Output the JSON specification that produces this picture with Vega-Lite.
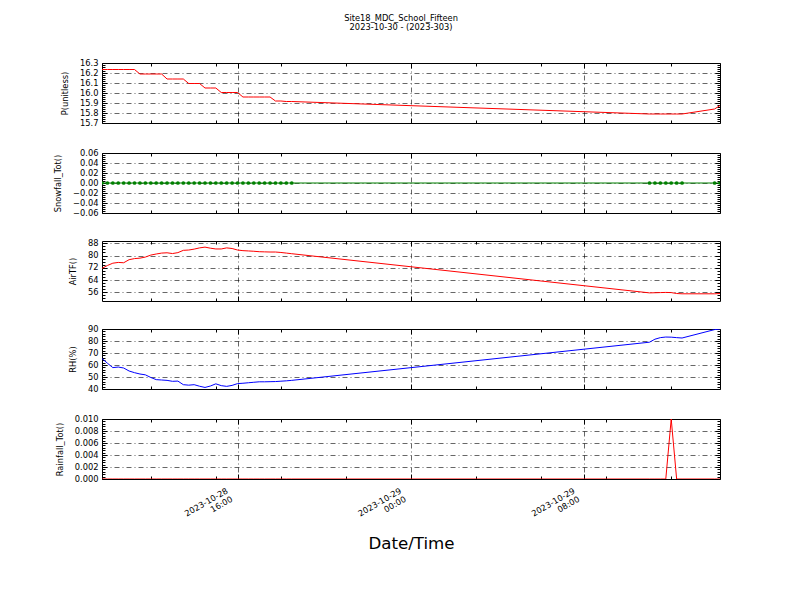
{
  "$schema": "https://vega.github.io/schema/vega-lite/v6.json",
  "background": "white",
  "padding": {"left": 53, "top": 13, "right": 5, "bottom": 5},
  "title": {"text": ["Site18_MDC_School_Fifteen", "2023-10-30 - (2023-303)"], "fontSize": 8.3, "font": "DejaVu Sans", "fontWeight": "normal", "lineHeight": 9.5, "anchor": "middle", "offset": 26, "dx": 14, "color": "black"},
  "data": {"values": [
    {"t": "2023-10-28T09:45:00", "P": 16.235, "S": 0, "T": 71.6, "RH": 65.4, "R": 0},
    {"t": "2023-10-28T10:00:00", "P": 16.235, "S": 0, "T": 73.5, "RH": 61.5, "R": 0},
    {"t": "2023-10-28T10:15:00", "P": 16.235, "S": 0, "T": 75.0, "RH": 57.8, "R": 0},
    {"t": "2023-10-28T10:30:00", "P": 16.235, "S": 0, "T": 75.5, "RH": 58.3, "R": 0},
    {"t": "2023-10-28T10:45:00", "P": 16.235, "S": 0, "T": 75.3, "RH": 57.5, "R": 0},
    {"t": "2023-10-28T11:00:00", "P": 16.235, "S": 0, "T": 77.3, "RH": 55.0, "R": 0},
    {"t": "2023-10-28T11:15:00", "P": 16.235, "S": 0, "T": 78.0, "RH": 53.6, "R": 0},
    {"t": "2023-10-28T11:30:00", "P": 16.19, "S": 0, "T": 78.3, "RH": 52.5, "R": 0},
    {"t": "2023-10-28T11:45:00", "P": 16.19, "S": 0, "T": 79.0, "RH": 51.8, "R": 0},
    {"t": "2023-10-28T12:00:00", "P": 16.19, "S": 0, "T": 80.3, "RH": 49.6, "R": 0},
    {"t": "2023-10-28T12:15:00", "P": 16.19, "S": 0, "T": 81.0, "RH": 47.8, "R": 0},
    {"t": "2023-10-28T12:30:00", "P": 16.19, "S": 0, "T": 81.6, "RH": 47.5, "R": 0},
    {"t": "2023-10-28T12:45:00", "P": 16.14, "S": 0, "T": 81.8, "RH": 47.2, "R": 0},
    {"t": "2023-10-28T13:00:00", "P": 16.14, "S": 0, "T": 81.3, "RH": 46.4, "R": 0},
    {"t": "2023-10-28T13:15:00", "P": 16.14, "S": 0, "T": 81.9, "RH": 46.6, "R": 0},
    {"t": "2023-10-28T13:30:00", "P": 16.14, "S": 0, "T": 83.4, "RH": 43.6, "R": 0},
    {"t": "2023-10-28T13:45:00", "P": 16.095, "S": 0, "T": 83.6, "RH": 43.2, "R": 0},
    {"t": "2023-10-28T14:00:00", "P": 16.095, "S": 0, "T": 84.2, "RH": 43.6, "R": 0},
    {"t": "2023-10-28T14:15:00", "P": 16.095, "S": 0, "T": 85.0, "RH": 42.3, "R": 0},
    {"t": "2023-10-28T14:30:00", "P": 16.05, "S": 0, "T": 85.5, "RH": 41.3, "R": 0},
    {"t": "2023-10-28T14:45:00", "P": 16.05, "S": 0, "T": 84.8, "RH": 42.5, "R": 0},
    {"t": "2023-10-28T15:00:00", "P": 16.05, "S": 0, "T": 84.3, "RH": 44.3, "R": 0},
    {"t": "2023-10-28T15:15:00", "P": 16.005, "S": 0, "T": 84.3, "RH": 42.8, "R": 0},
    {"t": "2023-10-28T15:30:00", "P": 16.005, "S": 0, "T": 85.0, "RH": 42.2, "R": 0},
    {"t": "2023-10-28T15:45:00", "P": 16.005, "S": 0, "T": 84.6, "RH": 43.0, "R": 0},
    {"t": "2023-10-28T16:00:00", "P": 16.005, "S": 0, "T": 83.6, "RH": 44.5, "R": 0},
    {"t": "2023-10-28T16:15:00", "P": 15.96, "S": 0, "T": 83.2, "RH": 44.8, "R": 0},
    {"t": "2023-10-28T16:30:00", "P": 15.96, "S": 0, "T": 83.0, "RH": 45.2, "R": 0},
    {"t": "2023-10-28T16:45:00", "P": 15.96, "S": 0, "T": 82.8, "RH": 45.6, "R": 0},
    {"t": "2023-10-28T17:00:00", "P": 15.96, "S": 0, "T": 82.5, "RH": 46.0, "R": 0},
    {"t": "2023-10-28T17:15:00", "P": 15.96, "S": 0, "T": 82.4, "RH": 46.0, "R": 0},
    {"t": "2023-10-28T17:30:00", "P": 15.96, "S": 0, "T": 82.3, "RH": 46.1, "R": 0},
    {"t": "2023-10-28T17:45:00", "P": 15.92, "S": 0, "T": 82.3, "RH": 46.2, "R": 0},
    {"t": "2023-10-28T18:00:00", "P": 15.92, "S": 0, "T": 82.0, "RH": 46.5, "R": 0},
    {"t": "2023-10-28T18:15:00", "P": 15.915, "S": 0, "T": 81.6, "RH": 46.8, "R": 0},
    {"t": "2023-10-28T18:30:00", "P": 15.915, "S": 0, "T": 81.2, "RH": 47.2, "R": 0},
    {"t": "2023-10-29T11:00:00", "P": 15.79, "S": 0, "T": 55.6, "RH": 79.0, "R": 0},
    {"t": "2023-10-29T11:15:00", "P": 15.79, "S": 0, "T": 55.7, "RH": 81.5, "R": 0},
    {"t": "2023-10-29T11:30:00", "P": 15.79, "S": 0, "T": 55.8, "RH": 82.8, "R": 0},
    {"t": "2023-10-29T11:45:00", "P": 15.79, "S": 0, "T": 55.9, "RH": 83.3, "R": 0},
    {"t": "2023-10-29T12:00:00", "P": 15.79, "S": 0, "T": 55.8, "RH": 83.2, "R": 0.01},
    {"t": "2023-10-29T12:15:00", "P": 15.79, "S": 0, "T": 55.2, "RH": 82.8, "R": 0},
    {"t": "2023-10-29T12:30:00", "P": 15.79, "S": 0, "T": 55.0, "RH": 82.5, "R": 0},
    {"t": "2023-10-29T14:00:00", "P": 15.84, "S": 0, "T": 55.0, "RH": 89.5, "R": 0},
    {"t": "2023-10-29T14:15:00", "P": 15.875, "S": 0, "T": 55.2, "RH": 90.0, "R": 0}
  ]},
  "vconcat": [
    {
      "width": 618, "height": 60,
      "layer": [
        {"mark": {"type": "line", "color": "#ff0000", "strokeWidth": 1, "clip": true},
         "encoding": {
           "x": {"field": "t", "type": "temporal", "scale": {"domain": [{"year": 2023, "month": 10, "date": 28, "hours": 9, "minutes": 45}, {"year": 2023, "month": 10, "date": 29, "hours": 14, "minutes": 15}], "nice": false},
             "axis": {"orient": "bottom", "values": [{"year": 2023, "month": 10, "date": 28, "hours": 12}, {"year": 2023, "month": 10, "date": 28, "hours": 15}, {"year": 2023, "month": 10, "date": 28, "hours": 16}, {"year": 2023, "month": 10, "date": 28, "hours": 18}, {"year": 2023, "month": 10, "date": 28, "hours": 21}, {"year": 2023, "month": 10, "date": 29, "hours": 0}, {"year": 2023, "month": 10, "date": 29, "hours": 3}, {"year": 2023, "month": 10, "date": 29, "hours": 6}, {"year": 2023, "month": 10, "date": 29, "hours": 8}, {"year": 2023, "month": 10, "date": 29, "hours": 9}, {"year": 2023, "month": 10, "date": 29, "hours": 12}],
               "grid": true, "gridOpacity": {"condition": {"test": "hours(datum.value)%8==0", "value": 1}, "value": 0},
               "tickSize": {"condition": {"test": "hours(datum.value)%8==0", "value": -5}, "value": -3},
               "labels": false, "title": null, "minExtent": 0}},
           "y": {"field": "P", "type": "quantitative", "scale": {"domain": [15.7, 16.3], "nice": false, "zero": false},
             "axis": {"orient": "left", "values": [15.7,15.72,15.74,15.76,15.78,15.8,15.82,15.84,15.86,15.88,15.9,15.92,15.94,15.96,15.98,16,16.02,16.04,16.06,16.08,16.1,16.12,16.14,16.16,16.18,16.2,16.22,16.24,16.26,16.28,16.3],
               "grid": true, "gridOpacity": {"condition": {"test": "abs(datum.value*10-round(datum.value*10))<1e-6", "value": 1}, "value": 0},
               "tickSize": {"condition": {"test": "abs(datum.value*10-round(datum.value*10))<1e-6", "value": -5}, "value": -3},
               "labelExpr": "abs(datum.value*10-round(datum.value*10))<1e-6 ? format(datum.value,'.1f') : ''",
               "title": "P(unitless)"}}
         }},
        {"mark": {"type": "line", "opacity": 0},
         "encoding": {
           "x": {"field": "t", "type": "temporal", "axis": {"orient": "top", "values": [{"year": 2023, "month": 10, "date": 28, "hours": 12}, {"year": 2023, "month": 10, "date": 28, "hours": 15}, {"year": 2023, "month": 10, "date": 28, "hours": 16}, {"year": 2023, "month": 10, "date": 28, "hours": 18}, {"year": 2023, "month": 10, "date": 28, "hours": 21}, {"year": 2023, "month": 10, "date": 29, "hours": 0}, {"year": 2023, "month": 10, "date": 29, "hours": 3}, {"year": 2023, "month": 10, "date": 29, "hours": 6}, {"year": 2023, "month": 10, "date": 29, "hours": 8}, {"year": 2023, "month": 10, "date": 29, "hours": 9}, {"year": 2023, "month": 10, "date": 29, "hours": 12}], "grid": false, "labels": false, "title": null, "minExtent": 0,
             "tickSize": {"condition": {"test": "hours(datum.value)%8==0", "value": -5}, "value": -3}}},
           "y": {"field": "P", "type": "quantitative", "axis": {"orient": "right", "values": [15.7,15.72,15.74,15.76,15.78,15.8,15.82,15.84,15.86,15.88,15.9,15.92,15.94,15.96,15.98,16,16.02,16.04,16.06,16.08,16.1,16.12,16.14,16.16,16.18,16.2,16.22,16.24,16.26,16.28,16.3], "grid": false, "labels": false, "title": null, "minExtent": 0,
             "tickSize": {"condition": {"test": "abs(datum.value*10-round(datum.value*10))<1e-6", "value": -5}, "value": -3}}}
         }}
      ],
      "resolve": {"axis": {"x": "independent", "y": "independent"}}
    },
    {
      "width": 618, "height": 60,
      "layer": [
        {"mark": {"type": "line", "color": "#008000", "strokeWidth": 1, "clip": true},
         "encoding": {
           "x": {"field": "t", "type": "temporal", "scale": {"domain": [{"year": 2023, "month": 10, "date": 28, "hours": 9, "minutes": 45}, {"year": 2023, "month": 10, "date": 29, "hours": 14, "minutes": 15}], "nice": false},
             "axis": {"orient": "bottom", "values": [{"year": 2023, "month": 10, "date": 28, "hours": 12}, {"year": 2023, "month": 10, "date": 28, "hours": 15}, {"year": 2023, "month": 10, "date": 28, "hours": 16}, {"year": 2023, "month": 10, "date": 28, "hours": 18}, {"year": 2023, "month": 10, "date": 28, "hours": 21}, {"year": 2023, "month": 10, "date": 29, "hours": 0}, {"year": 2023, "month": 10, "date": 29, "hours": 3}, {"year": 2023, "month": 10, "date": 29, "hours": 6}, {"year": 2023, "month": 10, "date": 29, "hours": 8}, {"year": 2023, "month": 10, "date": 29, "hours": 9}, {"year": 2023, "month": 10, "date": 29, "hours": 12}],
               "grid": true, "gridOpacity": {"condition": {"test": "hours(datum.value)%8==0", "value": 1}, "value": 0},
               "tickSize": {"condition": {"test": "hours(datum.value)%8==0", "value": -5}, "value": -3},
               "labels": false, "title": null, "minExtent": 0}},
           "y": {"field": "S", "type": "quantitative", "scale": {"domain": [-0.06, 0.06], "nice": false, "zero": false},
             "axis": {"orient": "left", "values": [-0.06,-0.056,-0.052,-0.048,-0.044,-0.04,-0.036,-0.032,-0.028,-0.024,-0.02,-0.016,-0.012,-0.008,-0.004,0,0.004,0.008,0.012,0.016,0.02,0.024,0.028,0.032,0.036,0.04,0.044,0.048,0.052,0.056,0.06],
               "grid": true, "gridOpacity": {"condition": {"test": "abs(datum.value*50-round(datum.value*50))<1e-6", "value": 1}, "value": 0},
               "tickSize": {"condition": {"test": "abs(datum.value*50-round(datum.value*50))<1e-6", "value": -5}, "value": -3},
               "labelExpr": "abs(datum.value*50-round(datum.value*50))<1e-6 ? format(datum.value,'.2f') : ''",
               "title": "Snowfall_Tot()"}}
         }},
        {"mark": {"type": "point", "filled": true, "color": "#008000", "opacity": 1, "size": 14, "clip": true},
         "encoding": {
           "x": {"field": "t", "type": "temporal", "axis": {"orient": "top", "values": [{"year": 2023, "month": 10, "date": 28, "hours": 12}, {"year": 2023, "month": 10, "date": 28, "hours": 15}, {"year": 2023, "month": 10, "date": 28, "hours": 16}, {"year": 2023, "month": 10, "date": 28, "hours": 18}, {"year": 2023, "month": 10, "date": 28, "hours": 21}, {"year": 2023, "month": 10, "date": 29, "hours": 0}, {"year": 2023, "month": 10, "date": 29, "hours": 3}, {"year": 2023, "month": 10, "date": 29, "hours": 6}, {"year": 2023, "month": 10, "date": 29, "hours": 8}, {"year": 2023, "month": 10, "date": 29, "hours": 9}, {"year": 2023, "month": 10, "date": 29, "hours": 12}], "grid": false, "labels": false, "title": null, "minExtent": 0,
             "tickSize": {"condition": {"test": "hours(datum.value)%8==0", "value": -5}, "value": -3}}},
           "y": {"field": "S", "type": "quantitative", "axis": {"orient": "right", "values": [-0.06,-0.056,-0.052,-0.048,-0.044,-0.04,-0.036,-0.032,-0.028,-0.024,-0.02,-0.016,-0.012,-0.008,-0.004,0,0.004,0.008,0.012,0.016,0.02,0.024,0.028,0.032,0.036,0.04,0.044,0.048,0.052,0.056,0.06], "grid": false, "labels": false, "title": null, "minExtent": 0,
             "tickSize": {"condition": {"test": "abs(datum.value*50-round(datum.value*50))<1e-6", "value": -5}, "value": -3}}}
         }}
      ],
      "resolve": {"axis": {"x": "independent", "y": "independent"}}
    },
    {
      "width": 618, "height": 60,
      "layer": [
        {"mark": {"type": "line", "color": "#ff0000", "strokeWidth": 1, "clip": true},
         "encoding": {
           "x": {"field": "t", "type": "temporal", "scale": {"domain": [{"year": 2023, "month": 10, "date": 28, "hours": 9, "minutes": 45}, {"year": 2023, "month": 10, "date": 29, "hours": 14, "minutes": 15}], "nice": false},
             "axis": {"orient": "bottom", "values": [{"year": 2023, "month": 10, "date": 28, "hours": 12}, {"year": 2023, "month": 10, "date": 28, "hours": 15}, {"year": 2023, "month": 10, "date": 28, "hours": 16}, {"year": 2023, "month": 10, "date": 28, "hours": 18}, {"year": 2023, "month": 10, "date": 28, "hours": 21}, {"year": 2023, "month": 10, "date": 29, "hours": 0}, {"year": 2023, "month": 10, "date": 29, "hours": 3}, {"year": 2023, "month": 10, "date": 29, "hours": 6}, {"year": 2023, "month": 10, "date": 29, "hours": 8}, {"year": 2023, "month": 10, "date": 29, "hours": 9}, {"year": 2023, "month": 10, "date": 29, "hours": 12}],
               "grid": true, "gridOpacity": {"condition": {"test": "hours(datum.value)%8==0", "value": 1}, "value": 0},
               "tickSize": {"condition": {"test": "hours(datum.value)%8==0", "value": -5}, "value": -3},
               "labels": false, "title": null, "minExtent": 0}},
           "y": {"field": "T", "type": "quantitative", "scale": {"domain": [50.3, 89.5], "nice": false, "zero": false},
             "axis": {"orient": "left", "values": [52,54,56,58,60,62,64,66,68,70,72,74,76,78,80,82,84,86,88],
               "grid": true, "gridOpacity": {"condition": {"test": "datum.value%8==0", "value": 1}, "value": 0},
               "tickSize": {"condition": {"test": "datum.value%8==0", "value": -5}, "value": -3},
               "labelExpr": "datum.value%8==0 ? format(datum.value,'d') : ''",
               "title": "AirTF()"}}
         }},
        {"mark": {"type": "line", "opacity": 0},
         "encoding": {
           "x": {"field": "t", "type": "temporal", "axis": {"orient": "top", "values": [{"year": 2023, "month": 10, "date": 28, "hours": 12}, {"year": 2023, "month": 10, "date": 28, "hours": 15}, {"year": 2023, "month": 10, "date": 28, "hours": 16}, {"year": 2023, "month": 10, "date": 28, "hours": 18}, {"year": 2023, "month": 10, "date": 28, "hours": 21}, {"year": 2023, "month": 10, "date": 29, "hours": 0}, {"year": 2023, "month": 10, "date": 29, "hours": 3}, {"year": 2023, "month": 10, "date": 29, "hours": 6}, {"year": 2023, "month": 10, "date": 29, "hours": 8}, {"year": 2023, "month": 10, "date": 29, "hours": 9}, {"year": 2023, "month": 10, "date": 29, "hours": 12}], "grid": false, "labels": false, "title": null, "minExtent": 0,
             "tickSize": {"condition": {"test": "hours(datum.value)%8==0", "value": -5}, "value": -3}}},
           "y": {"field": "T", "type": "quantitative", "axis": {"orient": "right", "values": [52,54,56,58,60,62,64,66,68,70,72,74,76,78,80,82,84,86,88], "grid": false, "labels": false, "title": null, "minExtent": 0,
             "tickSize": {"condition": {"test": "datum.value%8==0", "value": -5}, "value": -3}}}
         }}
      ],
      "resolve": {"axis": {"x": "independent", "y": "independent"}}
    },
    {
      "width": 618, "height": 60,
      "layer": [
        {"mark": {"type": "line", "color": "#0000ff", "strokeWidth": 1, "clip": true},
         "encoding": {
           "x": {"field": "t", "type": "temporal", "scale": {"domain": [{"year": 2023, "month": 10, "date": 28, "hours": 9, "minutes": 45}, {"year": 2023, "month": 10, "date": 29, "hours": 14, "minutes": 15}], "nice": false},
             "axis": {"orient": "bottom", "values": [{"year": 2023, "month": 10, "date": 28, "hours": 12}, {"year": 2023, "month": 10, "date": 28, "hours": 15}, {"year": 2023, "month": 10, "date": 28, "hours": 16}, {"year": 2023, "month": 10, "date": 28, "hours": 18}, {"year": 2023, "month": 10, "date": 28, "hours": 21}, {"year": 2023, "month": 10, "date": 29, "hours": 0}, {"year": 2023, "month": 10, "date": 29, "hours": 3}, {"year": 2023, "month": 10, "date": 29, "hours": 6}, {"year": 2023, "month": 10, "date": 29, "hours": 8}, {"year": 2023, "month": 10, "date": 29, "hours": 9}, {"year": 2023, "month": 10, "date": 29, "hours": 12}],
               "grid": true, "gridOpacity": {"condition": {"test": "hours(datum.value)%8==0", "value": 1}, "value": 0},
               "tickSize": {"condition": {"test": "hours(datum.value)%8==0", "value": -5}, "value": -3},
               "labels": false, "title": null, "minExtent": 0}},
           "y": {"field": "RH", "type": "quantitative", "scale": {"domain": [40, 90], "nice": false, "zero": false},
             "axis": {"orient": "left", "values": [40,42,44,46,48,50,52,54,56,58,60,62,64,66,68,70,72,74,76,78,80,82,84,86,88,90],
               "grid": true, "gridOpacity": {"condition": {"test": "datum.value%10==0", "value": 1}, "value": 0},
               "tickSize": {"condition": {"test": "datum.value%10==0", "value": -5}, "value": -3},
               "labelExpr": "datum.value%10==0 ? format(datum.value,'d') : ''",
               "title": "RH(%)"}}
         }},
        {"mark": {"type": "line", "opacity": 0},
         "encoding": {
           "x": {"field": "t", "type": "temporal", "axis": {"orient": "top", "values": [{"year": 2023, "month": 10, "date": 28, "hours": 12}, {"year": 2023, "month": 10, "date": 28, "hours": 15}, {"year": 2023, "month": 10, "date": 28, "hours": 16}, {"year": 2023, "month": 10, "date": 28, "hours": 18}, {"year": 2023, "month": 10, "date": 28, "hours": 21}, {"year": 2023, "month": 10, "date": 29, "hours": 0}, {"year": 2023, "month": 10, "date": 29, "hours": 3}, {"year": 2023, "month": 10, "date": 29, "hours": 6}, {"year": 2023, "month": 10, "date": 29, "hours": 8}, {"year": 2023, "month": 10, "date": 29, "hours": 9}, {"year": 2023, "month": 10, "date": 29, "hours": 12}], "grid": false, "labels": false, "title": null, "minExtent": 0,
             "tickSize": {"condition": {"test": "hours(datum.value)%8==0", "value": -5}, "value": -3}}},
           "y": {"field": "RH", "type": "quantitative", "axis": {"orient": "right", "values": [40,42,44,46,48,50,52,54,56,58,60,62,64,66,68,70,72,74,76,78,80,82,84,86,88,90], "grid": false, "labels": false, "title": null, "minExtent": 0,
             "tickSize": {"condition": {"test": "datum.value%10==0", "value": -5}, "value": -3}}}
         }}
      ],
      "resolve": {"axis": {"x": "independent", "y": "independent"}}
    },
    {
      "width": 618, "height": 60,
      "layer": [
        {"mark": {"type": "line", "color": "#ff0000", "strokeWidth": 1, "clip": true},
         "encoding": {
           "x": {"field": "t", "type": "temporal", "scale": {"domain": [{"year": 2023, "month": 10, "date": 28, "hours": 9, "minutes": 45}, {"year": 2023, "month": 10, "date": 29, "hours": 14, "minutes": 15}], "nice": false},
             "axis": {"orient": "bottom", "values": [{"year": 2023, "month": 10, "date": 28, "hours": 12}, {"year": 2023, "month": 10, "date": 28, "hours": 15}, {"year": 2023, "month": 10, "date": 28, "hours": 16}, {"year": 2023, "month": 10, "date": 28, "hours": 18}, {"year": 2023, "month": 10, "date": 28, "hours": 21}, {"year": 2023, "month": 10, "date": 29, "hours": 0}, {"year": 2023, "month": 10, "date": 29, "hours": 3}, {"year": 2023, "month": 10, "date": 29, "hours": 6}, {"year": 2023, "month": 10, "date": 29, "hours": 8}, {"year": 2023, "month": 10, "date": 29, "hours": 9}, {"year": 2023, "month": 10, "date": 29, "hours": 12}],
               "grid": true, "gridOpacity": {"condition": {"test": "hours(datum.value)%8==0", "value": 1}, "value": 0},
               "tickSize": {"condition": {"test": "hours(datum.value)%8==0", "value": -5}, "value": -3},
               "labels": true,
               "labelExpr": "hours(datum.value)%8==0 ? [timeFormat(datum.value,'%Y-%m-%d'), timeFormat(datum.value,'%H:%M')] : ''",
               "labelAngle": -30, "labelAlign": "right", "labelBaseline": "top", "labelOffset": -13, "labelPadding": 12, "labelLineHeight": 9.5,
               "title": "Date/Time", "titleFontSize": 16.67, "titlePadding": 10}},
           "y": {"field": "R", "type": "quantitative", "scale": {"domain": [0, 0.01], "nice": false, "zero": false},
             "axis": {"orient": "left", "values": [0,0.0004,0.0008,0.0012,0.0016,0.002,0.0024,0.0028,0.0032,0.0036,0.004,0.0044,0.0048,0.0052,0.0056,0.006,0.0064,0.0068,0.0072,0.0076,0.008,0.0084,0.0088,0.0092,0.0096,0.01],
               "grid": true, "gridOpacity": {"condition": {"test": "abs(datum.value*500-round(datum.value*500))<1e-6", "value": 1}, "value": 0},
               "tickSize": {"condition": {"test": "abs(datum.value*500-round(datum.value*500))<1e-6", "value": -5}, "value": -3},
               "labelExpr": "abs(datum.value*500-round(datum.value*500))<1e-6 ? format(datum.value,'.3f') : ''",
               "title": "Rainfall_Tot()"}}
         }},
        {"mark": {"type": "line", "opacity": 0},
         "encoding": {
           "x": {"field": "t", "type": "temporal", "axis": {"orient": "top", "values": [{"year": 2023, "month": 10, "date": 28, "hours": 12}, {"year": 2023, "month": 10, "date": 28, "hours": 15}, {"year": 2023, "month": 10, "date": 28, "hours": 16}, {"year": 2023, "month": 10, "date": 28, "hours": 18}, {"year": 2023, "month": 10, "date": 28, "hours": 21}, {"year": 2023, "month": 10, "date": 29, "hours": 0}, {"year": 2023, "month": 10, "date": 29, "hours": 3}, {"year": 2023, "month": 10, "date": 29, "hours": 6}, {"year": 2023, "month": 10, "date": 29, "hours": 8}, {"year": 2023, "month": 10, "date": 29, "hours": 9}, {"year": 2023, "month": 10, "date": 29, "hours": 12}], "grid": false, "labels": false, "title": null, "minExtent": 0,
             "tickSize": {"condition": {"test": "hours(datum.value)%8==0", "value": -5}, "value": -3}}},
           "y": {"field": "R", "type": "quantitative", "axis": {"orient": "right", "values": [0,0.0004,0.0008,0.0012,0.0016,0.002,0.0024,0.0028,0.0032,0.0036,0.004,0.0044,0.0048,0.0052,0.0056,0.006,0.0064,0.0068,0.0072,0.0076,0.008,0.0084,0.0088,0.0092,0.0096,0.01], "grid": false, "labels": false, "title": null, "minExtent": 0,
             "tickSize": {"condition": {"test": "abs(datum.value*500-round(datum.value*500))<1e-6", "value": -5}, "value": -3}}}
         }}
      ],
      "resolve": {"axis": {"x": "independent", "y": "independent"}}
    }
  ],
  "spacing": 20,
  "resolve": {"scale": {"x": "independent", "y": "independent"}},
  "config": {
    "view": {"stroke": "black", "strokeWidth": 1},
    "font": "DejaVu Sans",
    "axis": {"domain": false, "tickColor": "black", "tickWidth": 1, "gridColor": "black", "gridDash": [5, 3, 1, 3], "gridWidth": 0.6,
      "labelFont": "DejaVu Sans", "labelFontSize": 8.3, "labelColor": "black", "labelPadding": 9, "labelOverlap": false, "labelFlush": false, "labelBound": false,
      "titleFont": "DejaVu Sans", "titleFontSize": 8.3, "titleFontWeight": "normal", "titleColor": "black", "titlePadding": 10}
  }
}
